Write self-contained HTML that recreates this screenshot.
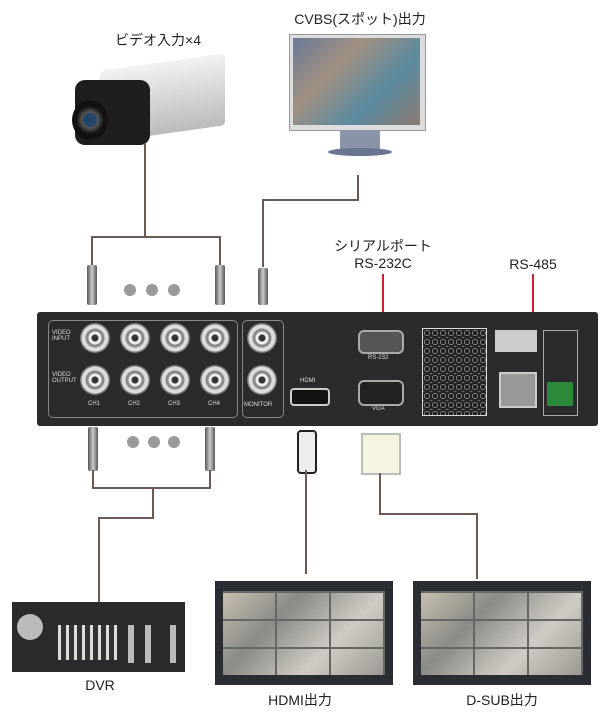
<!DOCTYPE html>
<html><head><meta charset="utf-8"><style>
body{margin:0;width:608px;height:721px;background:#fff;position:relative;overflow:hidden;font-family:"Liberation Sans","Noto Sans CJK JP",sans-serif;}
.a{position:absolute}
.l{position:absolute;background:#6b5a55}
.t{position:absolute;font-size:14px;color:#222;white-space:nowrap;transform:translateX(-50%)}
.bnc{position:absolute;width:30px;height:30px;border-radius:50%;background:radial-gradient(circle,#333 0 3px,#eee 4px 6px,#888 7px 9px,#ddd 10px 13px,#777 14px)}
.plug{position:absolute;width:10px;background:linear-gradient(90deg,#555,#ccc,#555);border-radius:2px}
.dot{position:absolute;width:12px;height:12px;border-radius:50%;background:#999}
.scr{position:absolute;background:repeating-linear-gradient(90deg,transparent 0 52px,#666 52px 54px),repeating-linear-gradient(0deg,transparent 0 26px,#666 26px 28px),linear-gradient(135deg,#c8c0b0,#8a8a86,#d0ccc4,#9a9890)}
.sm{position:absolute;font-size:6px;color:#ddd;white-space:nowrap}
</style></head><body>
<div class="t" style="left:158px;top:30px">ビデオ入力×4</div>
<div class="t" style="left:360px;top:9px">CVBS(スポット)出力</div>
<div class="t" style="left:383px;top:236px">シリアルポート</div>
<div class="t" style="left:383px;top:255px">RS-232C</div>
<div class="t" style="left:533px;top:256px">RS-485</div>
<div class="t" style="left:100px;top:677px">DVR</div>
<div class="t" style="left:300px;top:690px">HDMI出力</div>
<div class="t" style="left:502px;top:690px">D-SUB出力</div>

<!-- camera -->
<div class="a" style="left:100px;top:62px;width:125px;height:72px;background:linear-gradient(#f2f2f2,#bbb);border-radius:4px;transform:skewY(-8deg)"></div>
<div class="a" style="left:75px;top:80px;width:75px;height:65px;background:#1e1e1e;border-radius:10px"></div>
<div class="a" style="left:72px;top:100px;width:36px;height:40px;border-radius:50%;background:radial-gradient(circle,#246 0 6px,#555 8px,#111 14px)"></div>
<!-- CVBS monitor -->
<div class="a" style="left:289px;top:34px;width:135px;height:95px;background:#ddd;border:1px solid #999"></div>
<div class="a" style="left:293px;top:38px;width:127px;height:87px;background:linear-gradient(135deg,#6a7a9a,#a09080,#5a8aa0,#8a7a70)"></div>
<div class="a" style="left:340px;top:130px;width:40px;height:20px;background:#8a94a8"></div>
<div class="a" style="left:328px;top:148px;width:64px;height:8px;background:#6a7590;border-radius:50%"></div>

<!-- wires top -->
<div class="l" style="left:144px;top:143px;width:2px;height:95px"></div>
<div class="l" style="left:91px;top:236px;width:130px;height:2px"></div>
<div class="l" style="left:91px;top:236px;width:2px;height:30px"></div>
<div class="l" style="left:219px;top:236px;width:2px;height:30px"></div>
<div class="l" style="left:357px;top:175px;width:2px;height:26px"></div>
<div class="l" style="left:262px;top:199px;width:97px;height:2px"></div>
<div class="l" style="left:262px;top:199px;width:2px;height:68px"></div>
<div class="plug" style="left:87px;top:265px;height:40px"></div>
<div class="plug" style="left:215px;top:265px;height:40px"></div>
<div class="plug" style="left:258px;top:268px;height:37px"></div>
<div class="dot" style="left:124px;top:284px"></div><div class="dot" style="left:146px;top:284px"></div><div class="dot" style="left:168px;top:284px"></div>
<div class="a" style="left:382px;top:274px;width:2px;height:68px;background:#d02030"></div>
<div class="a" style="left:532px;top:274px;width:2px;height:58px;background:#d02030"></div>

<!-- device -->
<div class="a" style="left:37px;top:312px;width:561px;height:114px;background:#2b2b2d;border-radius:3px"></div>
<div class="a" style="left:48px;top:320px;width:188px;height:96px;border:1px solid #888;border-radius:5px"></div>
<div class="a" style="left:242px;top:320px;width:40px;height:96px;border:1px solid #888;border-radius:5px"></div>
<div class="bnc" style="left:80px;top:323px"></div><div class="bnc" style="left:120px;top:323px"></div><div class="bnc" style="left:160px;top:323px"></div><div class="bnc" style="left:200px;top:323px"></div><div class="bnc" style="left:247px;top:323px"></div>
<div class="bnc" style="left:80px;top:365px"></div><div class="bnc" style="left:120px;top:365px"></div><div class="bnc" style="left:160px;top:365px"></div><div class="bnc" style="left:200px;top:365px"></div><div class="bnc" style="left:247px;top:365px"></div>
<div class="sm" style="left:52px;top:330px">VIDEO<br>INPUT</div>
<div class="sm" style="left:52px;top:372px">VIDEO<br>OUTPUT</div>
<div class="sm" style="left:88px;top:401px">CH1</div><div class="sm" style="left:128px;top:401px">CH2</div><div class="sm" style="left:168px;top:401px">CH3</div><div class="sm" style="left:208px;top:401px">CH4</div>
<div class="sm" style="left:244px;top:402px">MONITOR</div>
<div class="sm" style="left:300px;top:378px">HDMI</div>
<div class="sm" style="left:368px;top:355px">RS-232</div>
<div class="sm" style="left:372px;top:406px">VGA</div>
<div class="a" style="left:290px;top:388px;width:36px;height:14px;background:#111;border:2px solid #ccc;border-radius:4px"></div>
<div class="a" style="left:358px;top:330px;width:42px;height:20px;background:#555;border:2px solid #aaa;border-radius:6px"></div>
<div class="a" style="left:358px;top:380px;width:42px;height:22px;background:#222;border:2px solid #aaa;border-radius:6px"></div>
<div class="a" style="left:422px;top:328px;width:63px;height:86px;background:repeating-radial-gradient(circle at 4px 4px,#222 0 2px,#ccc 3px);background-size:8px 9px;border:1px solid #ddd"></div>
<div class="a" style="left:495px;top:330px;width:42px;height:22px;background:#ccc"></div>
<div class="a" style="left:499px;top:372px;width:34px;height:32px;background:#999;border:2px solid #ccc"></div>
<div class="a" style="left:543px;top:330px;width:33px;height:84px;border:1px solid #aaa"></div>
<div class="a" style="left:547px;top:382px;width:26px;height:24px;background:#2a8a3a"></div>

<!-- bottom wires -->
<div class="plug" style="left:88px;top:427px;height:44px"></div>
<div class="plug" style="left:205px;top:427px;height:44px"></div>
<div class="dot" style="left:127px;top:436px"></div><div class="dot" style="left:148px;top:436px"></div><div class="dot" style="left:168px;top:436px"></div>
<div class="l" style="left:92px;top:470px;width:2px;height:19px"></div>
<div class="l" style="left:209px;top:470px;width:2px;height:19px"></div>
<div class="l" style="left:92px;top:487px;width:119px;height:2px"></div>
<div class="l" style="left:152px;top:487px;width:2px;height:32px"></div>
<div class="l" style="left:98px;top:517px;width:56px;height:2px"></div>
<div class="l" style="left:98px;top:517px;width:2px;height:86px"></div>
<div class="a" style="left:297px;top:430px;width:16px;height:40px;border:2px solid #222;border-radius:4px;background:#eee"></div>
<div class="l" style="left:305px;top:470px;width:2px;height:104px"></div>
<div class="a" style="left:361px;top:433px;width:36px;height:38px;border:2px solid #bbb;background:#f4f4e0"></div>
<div class="l" style="left:379px;top:473px;width:2px;height:42px"></div>
<div class="l" style="left:379px;top:513px;width:99px;height:2px"></div>
<div class="l" style="left:476px;top:513px;width:2px;height:66px"></div>

<!-- DVR -->
<div class="a" style="left:12px;top:602px;width:173px;height:70px;background:#2a2a2c"></div>
<div class="a" style="left:17px;top:614px;width:26px;height:26px;border-radius:50%;background:#bbb"></div>
<div class="a" style="left:58px;top:625px;width:60px;height:35px;background:repeating-linear-gradient(90deg,#ddd 0 3px,#333 3px 8px)"></div>
<div class="a" style="left:128px;top:625px;width:6px;height:38px;background:#bbb"></div>
<div class="a" style="left:145px;top:625px;width:6px;height:38px;background:#bbb"></div>
<div class="a" style="left:170px;top:625px;width:6px;height:38px;background:#bbb"></div>
<!-- monitors -->
<div class="a" style="left:215px;top:581px;width:178px;height:104px;background:#2a2d33"></div>
<div class="scr" style="left:223px;top:591px;width:162px;height:84px"></div>
<div class="a" style="left:413px;top:581px;width:178px;height:104px;background:#2a2d33"></div>
<div class="scr" style="left:421px;top:591px;width:162px;height:84px"></div>
</body></html>
